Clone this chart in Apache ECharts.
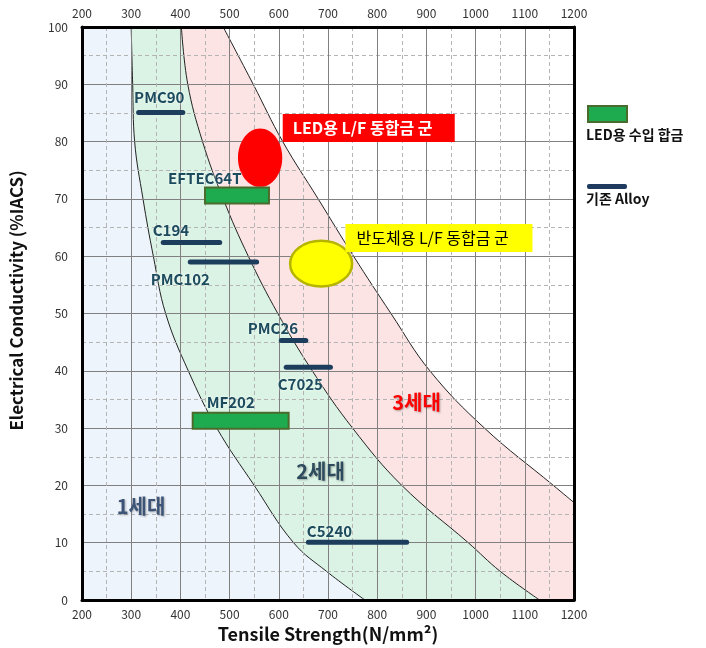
<!DOCTYPE html>
<html><head><meta charset="utf-8">
<script src="https://cdn.jsdelivr.net/npm/echarts@6/dist/echarts.min.js"></script>
<style>html,body{margin:0;padding:0;background:#fff}#c{width:706px;height:648px}</style>
</head><body><div id="c"></div>
<script>
// ---- axis ticks ----
const xTicks = [200, 300, 400, 500, 600, 700, 800, 900, 1000, 1100, 1200];
const yTicks = [0, 10, 20, 30, 40, 50, 60, 70, 80, 90, 100];

// ---- generation boundary curves (tensile strength vs conductivity) ----
const curve1Strength = [300, 303, 307, 324, 345, 370, 416, 474, 550, 630, 697, 775];
const curve1Conduct  = [100, 90, 80, 70, 60, 50, 40, 30, 20, 10, 5, 0];
const curve2Strength = [402, 415, 445, 487, 538, 598, 668, 750, 850, 985, 1050, 1130];
const curve2Conduct  = [100, 90, 80, 70, 60, 50, 40, 30, 20, 10, 5, 0];
const curve3Strength = [487, 548, 608, 680, 752, 828, 907, 1018, 1158, 1200];
const curve3Conduct  = [100, 90, 80, 70, 60, 50, 40, 30, 20, 17];

// ---- existing alloys (strength range at a conductivity) ----
const alloyNames = ['PMC90', 'C194', 'PMC102', 'PMC26', 'C7025', 'C5240'];
const alloyMin   = [310, 360, 415, 600, 610, 655];
const alloyMax   = [410, 485, 560, 660, 710, 865];
const alloyCond  = [85.1, 62.4, 59.0, 45.3, 40.6, 10.1];

// ---- imported LED alloys ----
const ledNames = ['EFTEC64T', 'MF202'];
const ledMin   = [450, 425];
const ledMax   = [580, 620];
const ledCond  = [70.6, 31.3];

// ---- target alloy groups (ellipses) ----
const groupNames        = ['LED용 L/F 동합금 군', '반도체용 L/F 동합금 군'];
const groupStrength     = [562, 686];
const groupCond         = [77.2, 58.7];
const groupStrengthSpan = [90, 126];
const groupCondSpan     = [10.2, 8];

// ---- generation names ----
const genNames = ['1세대', '2세대', '3세대'];

// ---- layout / style config (not data) ----
const FONT = '"Noto Sans CJK KR", "Noto Sans", sans-serif';
const alloyLabelOffset = [[-2, -15], [-8, -12], [-37, 17], [-31, -12], [-6, 17], [1, -11]];
const ledLabelOffset = [[-37, -17], [14, -18]];
const genAnchor = [[320, 16.4], [685, 22.5], [880, 34.4]];
const genColor = ['#3C5478', '#2E4A5E', '#FF0000'];
const groupStyle = [
  {fill: '#FF0000', stroke: '#FF0000', boxBg: '#FF0000', txt: '#FFFFFF', weight: 'bold', anchor: [608, 84.8], pad: [6, 0, 6, 10], w: 162},
  {fill: '#FFFF00', stroke: '#B5B500', boxBg: '#FFFF00', txt: '#000000', weight: 'normal', anchor: [735.5, 65.6], pad: [6, 0, 6, 11], w: 176}
];

function pairs(xs, ys) {
  const out = [];
  for (let i = 0; i < xs.length; i++) out.push([xs[i], ys[i]]);
  return out;
}
const X_MIN = xTicks[0], X_MAX = xTicks[xTicks.length - 1];
const Y_MIN = yTicks[0], Y_MAX = yTicks[yTicks.length - 1];

// region fill = area under the boundary curve + the full-height block left of where the curve starts
function regionSeries(name, xs, ys, color) {
  return [
    {
      name: name + ' 좌측', type: 'line', z: 1, silent: true, symbol: 'none',
      data: [[X_MIN, Y_MAX], [xs[0], Y_MAX]],
      lineStyle: {width: 0}, areaStyle: {color: color, opacity: 1}
    },
    {
      name, type: 'line', z: 1, silent: true, symbol: 'none',
      data: pairs(xs, ys), smooth: 0.4,
      lineStyle: {color: '#222', width: 1},
      areaStyle: {color: color, opacity: 1}
    }
  ];
}

const chart = echarts.init(document.getElementById('c'), null, {renderer: 'canvas'});

const axisLabelStyle = {color: '#333', fontSize: 12, fontFamily: FONT, formatter: v => String(v)};

const option = {
  animation: false,
  backgroundColor: '#fff',
  grid: {left: 82, right: 132, top: 27, bottom: 48, containLabel: false},
  xAxis: [
    {
      type: 'value', position: 'bottom', min: X_MIN, max: X_MAX, interval: 100, z: 3,
      axisLine: {show: true, onZero: false, lineStyle: {color: '#000', width: 3}},
      axisTick: {show: false},
      axisLabel: Object.assign({margin: 8}, axisLabelStyle),
      splitLine: {show: true, lineStyle: {color: '#808080', width: 1}},
      minorTick: {show: false, splitNumber: 2},
      minorSplitLine: {show: true, lineStyle: {color: '#b4b4b4', width: 1, type: [4, 3]}},
      name: 'Tensile Strength(N/mm²)', nameLocation: 'middle', nameGap: 21,
      nameTextStyle: {color: '#111', fontSize: 18, fontWeight: 'bold', fontFamily: FONT}
    },
    {
      type: 'value', position: 'top', min: X_MIN, max: X_MAX, interval: 100, z: 3,
      axisLine: {show: true, onZero: false, lineStyle: {color: '#000', width: 3}},
      axisTick: {show: false},
      axisLabel: Object.assign({margin: 8}, axisLabelStyle),
      splitLine: {show: false}
    }
  ],
  yAxis: [
    {
      type: 'value', position: 'left', min: Y_MIN, max: Y_MAX, interval: 10, z: 3,
      axisLine: {show: true, onZero: false, lineStyle: {color: '#000', width: 3}},
      axisTick: {show: false},
      axisLabel: Object.assign({margin: 14}, axisLabelStyle),
      splitLine: {show: true, lineStyle: {color: '#808080', width: 1}},
      minorTick: {show: false, splitNumber: 2},
      minorSplitLine: {show: true, lineStyle: {color: '#b4b4b4', width: 1, type: [4, 3]}},
      name: 'Electrical Conductivity (%IACS)', nameLocation: 'middle', nameGap: 57, nameRotate: 90,
      nameTextStyle: {color: '#111', fontSize: 17, fontWeight: 'bold', fontFamily: FONT, padding: [0, 0, 0, 26]}
    },
    {
      type: 'value', position: 'right', min: Y_MIN, max: Y_MAX, interval: 10, z: 3,
      axisLine: {show: true, onZero: false, lineStyle: {color: '#000', width: 3}},
      axisTick: {show: false}, axisLabel: {show: false}, splitLine: {show: false}
    }
  ],
  series: [].concat(
    regionSeries('3세대 경계', curve3Strength, curve3Conduct, '#FCE4E4'),
    regionSeries('2세대 경계', curve2Strength, curve2Conduct, '#DAF3E4'),
    regionSeries('1세대 경계', curve1Strength, curve1Conduct, '#EDF4FB'),
    [
    {
      name: 'generation', type: 'custom', z: 4, silent: true,
      data: genNames.map((n, i) => [genAnchor[i][0], genAnchor[i][1]]),
      renderItem: function (params, api) {
        const i = params.dataIndex;
        const p = api.coord([api.value(0), api.value(1)]);
        return {type: 'text', x: p[0], y: p[1], style: {
          text: genNames[i], fill: genColor[i], fontSize: 20, fontWeight: 'bold', fontFamily: FONT,
          align: 'center', verticalAlign: 'middle',
          textShadowColor: 'rgba(80,80,80,0.45)', textShadowBlur: 2, textShadowOffsetX: 1, textShadowOffsetY: 1
        }};
      }
    },
    {
      name: '합금 군', type: 'custom', z: 5, silent: true,
      data: groupNames.map((n, i) => [groupStrength[i], groupCond[i], groupStrengthSpan[i], groupCondSpan[i]]),
      renderItem: function (params, api) {
        const i = params.dataIndex;
        const c = api.coord([api.value(0), api.value(1)]);
        const sz = api.size([api.value(2), api.value(3)]);
        const st = groupStyle[i];
        return {type: 'ellipse', shape: {cx: c[0], cy: c[1], rx: sz[0] / 2, ry: sz[1] / 2},
          style: {fill: st.fill, stroke: st.stroke, lineWidth: i === 1 ? 2.5 : 0}};
      }
    },
    {
      name: 'callout', type: 'custom', z: 6, silent: true,
      data: groupNames.map((n, i) => [groupStyle[i].anchor[0], groupStyle[i].anchor[1]]),
      renderItem: function (params, api) {
        const i = params.dataIndex;
        const p = api.coord([api.value(0), api.value(1)]);
        const st = groupStyle[i];
        return {type: 'text', x: p[0], y: p[1], style: {
          text: groupNames[i], fill: st.txt, fontSize: 16, fontWeight: st.weight, fontFamily: FONT,
          align: 'left', verticalAlign: 'top', backgroundColor: st.boxBg, padding: st.pad, width: st.w
        }};
      }
    },
    {
      name: 'LED용 수입 합금', type: 'custom', z: 7, silent: true,
      data: ledNames.map((n, i) => [ledMin[i], ledMax[i], ledCond[i]]),
      renderItem: function (params, api) {
        const i = params.dataIndex;
        const s = api.coord([api.value(0), api.value(2)]);
        const e = api.coord([api.value(1), api.value(2)]);
        const h = 16, off = ledLabelOffset[i];
        return {type: 'group', children: [
          {type: 'rect', shape: {x: s[0], y: s[1] - h / 2, width: e[0] - s[0], height: h},
            style: {fill: '#1EAA4E', stroke: '#4B6B2C', lineWidth: 2}},
          {type: 'text', x: s[0] + off[0], y: s[1] + off[1], style: {
            text: ledNames[i], fill: '#1D4B5E', fontSize: 15, fontWeight: 'bold', fontFamily: FONT,
            align: 'left', verticalAlign: 'middle',
            textShadowColor: 'rgba(255,255,255,0.9)', textShadowBlur: 3}}
        ]};
      }
    },
    {
      name: '기존 Alloy', type: 'custom', z: 7, silent: true,
      data: alloyNames.map((n, i) => [alloyMin[i], alloyMax[i], alloyCond[i]]),
      renderItem: function (params, api) {
        const i = params.dataIndex;
        const s = api.coord([api.value(0), api.value(2)]);
        const e = api.coord([api.value(1), api.value(2)]);
        const h = 5, off = alloyLabelOffset[i];
        return {type: 'group', children: [
          {type: 'rect', shape: {x: s[0], y: s[1] - h / 2, width: e[0] - s[0], height: h, r: 2.5},
            style: {fill: '#1C3D5C'}},
          {type: 'text', x: s[0] + off[0], y: s[1] + off[1], style: {
            text: alloyNames[i], fill: '#1D4B5E', fontSize: 15, fontWeight: 'bold', fontFamily: FONT,
            align: 'left', verticalAlign: 'middle',
            textShadowColor: 'rgba(255,255,255,0.9)', textShadowBlur: 3}}
        ]};
      }
    }
    ]
  ),
  graphic: [
    {type: 'rect', left: 587, top: 105, shape: {width: 39, height: 16}, style: {fill: '#1EAA4E', stroke: '#4B6B2C', lineWidth: 2}},
    {type: 'text', left: 586, top: 128, style: {text: 'LED용 수입 합금', fill: '#111', fontSize: 14, fontWeight: 'bold', fontFamily: FONT}},
    {type: 'rect', left: 587, top: 184, shape: {width: 40, height: 5, r: 2}, style: {fill: '#1F3A5F'}},
    {type: 'text', left: 586, top: 192, style: {text: '기존 Alloy', fill: '#111', fontSize: 14, fontWeight: 'bold', fontFamily: FONT}}
  ]
};
chart.setOption(option);
</script>
</body></html>
